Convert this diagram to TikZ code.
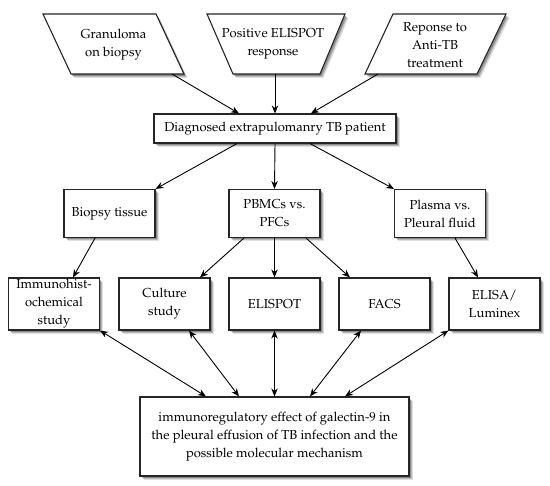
\documentclass[tikz,border=0pt]{standalone}
\usepackage[T1]{fontenc}
\usepackage{mathpazo}
\usetikzlibrary{arrows.meta,shadows}
\begin{document}
\begin{tikzpicture}[x=1pt,y=-1pt,
  txt/.style={font=\fontsize{13}{18}\selectfont, align=center, inner sep=0pt},
  shadowed/.style={
    drop shadow={shadow xshift=3.5pt,shadow yshift=-4pt,opacity=0.12,fill=black},
    drop shadow={shadow xshift=2.5pt,shadow yshift=-3pt,opacity=0.18,fill=black},
    drop shadow={shadow xshift=1.5pt,shadow yshift=-2pt,opacity=0.25,fill=black}},
  box/.style={txt, draw=black!85, line width=1.1pt, fill=white, shadowed},
  inshape/.style={draw=black!85, line width=1.1pt, fill=white, shadowed},
  arr/.style={line width=0.9pt, -{Stealth[length=8pt,width=6.5pt]}},
  darr/.style={line width=0.9pt, {Stealth[length=8pt,width=6.5pt]}-{Stealth[length=8pt,width=6.5pt]}}
]
\useasboundingbox (0,0) rectangle (550,486);

% input shapes
\draw[inshape] (43,14) -- (156,14) -- (184,74) -- (71,74) -- cycle;
\draw[inshape] (207,14) -- (345,14) -- (320,74) -- (233,74) -- cycle;
\draw[inshape] (393,14) -- (506,14) -- (477,74) -- (365,74) -- cycle;
\node[txt] (gran) at (113.5,45) {Granuloma\\on biopsy};
\node[txt] (pos) at (273,44) {Positive ELISPOT\\response};
\node[txt] (resp) at (435,45) {Reponse to\\Anti-TB\\treatment};
\coordinate (granout) at (172,74);
\coordinate (posout) at (275,74);
\coordinate (respout) at (378,74);

% main boxes
\node[box, minimum width=242pt, minimum height=29pt] (diag) at (275,128.5) {Diagnosed extrapulomanry TB patient};

\node[box, minimum width=91pt, minimum height=48pt] (bio) at (109.5,213.5) {Biopsy tissue};
\node[box, minimum width=91pt, minimum height=48pt] (pbmc) at (274.5,213.5) {PBMCs vs.\\PFCs};
\node[box, minimum width=91pt, minimum height=48pt] (plasma) at (440,213.5) {Plasma vs.\\Pleural fluid};

\node[box, minimum width=91pt, minimum height=52pt] (immuno) at (54,304) {Immunohist-\\ochemical\\study};
\node[box, minimum width=91pt, minimum height=52pt] (culture) at (164.5,304) {Culture\\study};
\node[box, minimum width=91pt, minimum height=52pt] (elispot) at (274.5,304) {ELISPOT};
\node[box, minimum width=91pt, minimum height=52pt] (facs) at (384.5,304) {FACS};
\node[box, minimum width=91pt, minimum height=52pt] (elisa) at (494.5,304) {ELISA/\\Luminex};

\node[box, minimum width=269pt, minimum height=79pt] (effect) at (274.5,436.5) {immunoregulatory effect of galectin-9 in\\the pleural effusion of TB infection and the\\possible molecular mechanism};

% arrows
\draw[arr] (granout) -- ([xshift=-36pt]diag.north);
\draw[arr] (posout) -- (diag.north);
\draw[arr] (respout) -- ([xshift=36pt]diag.north);

\draw[arr] ([xshift=-38pt]diag.south) -- (bio.north east);
\draw[arr] (diag.south) -- (pbmc.north);
\draw[arr] ([xshift=35pt]diag.south) -- (plasma.north west);

\draw[arr] ([xshift=-14.5pt]bio.south) -- ([xshift=19pt]immuno.north);
\draw[arr] ([xshift=-30.5pt]pbmc.south) -- ([xshift=35.5pt]culture.north);
\draw[arr] (pbmc.south) -- (elispot.north);
\draw[arr] ([xshift=31.5pt]pbmc.south) -- ([xshift=-34.5pt]facs.north);
\draw[arr] ([xshift=15pt]plasma.south) -- ([xshift=-16.5pt]elisa.north);

\draw[darr] (immuno.south east) -- ([xshift=-68.5pt]effect.north);
\draw[darr] ([xshift=24.5pt]culture.south) -- ([xshift=-35.5pt]effect.north);
\draw[darr] (elispot.south) -- (effect.north);
\draw[darr] ([xshift=-23.5pt]facs.south) -- ([xshift=35.5pt]effect.north);
\draw[darr] (elisa.south west) -- ([xshift=70.5pt]effect.north);
\end{tikzpicture}
\end{document}
